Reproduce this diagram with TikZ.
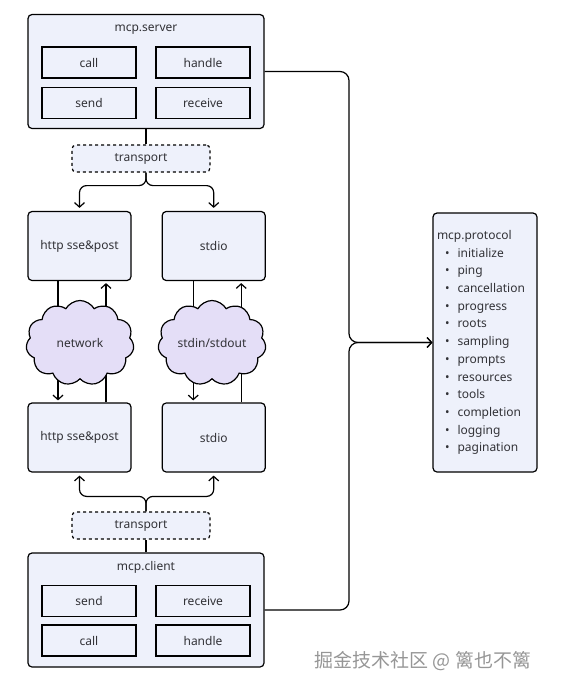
\documentclass[tikz,border=0pt]{standalone}
\usepackage{fontspec}
\setmainfont{Noto Sans}
\newfontfamily\cjkfont{Noto Sans CJK SC}
\usetikzlibrary{arrows, arrows.meta, shapes, positioning}
\definecolor{boxblue}{RGB}{238,241,251}
\definecolor{cloudlilac}{RGB}{228,222,247}
\definecolor{inkgray}{RGB}{50,50,55}
\definecolor{markgray}{RGB}{150,150,150}

\begin{document}
\begin{tikzpicture}[x=1pt, y=-1pt, line width=1.2pt,
                    >={Straight Barb[length=4.5pt, width=10pt]},
                    font=\fontsize{12}{14}\selectfont,
                    outer/.style= {draw,
                      rounded corners=4pt,
                      fill=boxblue,
                      inner sep=0pt,
                      minimum width=236pt,
                      minimum height=114pt},
                    inner/.style= {draw,
                      line width=1.5pt,
                      fill=boxblue,
                      text=inkgray,
                      inner sep=0pt,
                      minimum width=94pt,
                      minimum height=31pt},
                    link/.style= {draw,
                      rounded corners=4pt,
                      fill=boxblue,
                      text=inkgray,
                      inner sep=0pt,
                      minimum width=103pt,
                      minimum height=69pt},
                    dashbox/.style= {draw,
                      dashed,
                      rounded corners=4pt,
                      fill=boxblue,
                      text=inkgray,
                      inner sep=0pt,
                      minimum width=138pt,
                      minimum height=27pt},
                    puff/.style= {draw,
                      cloud,
                      cloud puffs=11,
                      cloud puff arc=120,
                      fill=cloudlilac,
                      text=inkgray,
                      inner sep=0pt,
                      minimum width=108pt,
                      minimum height=85pt},
                    listbox/.style= {draw,
                      rounded corners=4pt,
                      fill=boxblue,
                      text=inkgray,
                      align=left,
                      text width=96pt,
                      inner sep=4pt,
                      minimum height=259pt,
                      font=\fontsize{12}{17.7}\selectfont}]

  \useasboundingbox (0,0) rectangle (560,691);

  % server side
  \node[outer] (1) at (146,71.5) {};
  \node[text=inkgray] (1t) at (146,30) {mcp.server};
  \node[inner] (1a) at (89,62.5) {call};
  \node[inner] (1b) at (203,62.5) {handle};
  \node[inner] (1c) at (89,103) {send};
  \node[inner] (1d) at (203,103) {receive};
  \node[dashbox] (3) at (141,158.5) {transport};

  \node[link] (5) at (79.5,246) {http sse\&post};
  \node[link] (6) [right=30pt of 5] {stdio};
  \node[link] (9) at (79.5,437.5) {http sse\&post};
  \node[link] (10) [right=30pt of 9] {stdio};

  % these run behind the clouds placed next
  \draw[->, shorten >=2pt] ([xshift=-21.5pt]5.south) -- ([xshift=-21.5pt]9.north);
  \draw[->, shorten >=2pt] ([xshift=26.5pt]9.north) -- ([xshift=26.5pt]5.south);
  \draw[->, shorten >=2pt] ([xshift=-20.5pt]6.south) -- ([xshift=-20.5pt]10.north);
  \draw[->, shorten >=2pt] ([xshift=27.5pt]10.north) -- ([xshift=27.5pt]6.south);

  \node[puff] (7) at (80,343) {\makebox[0pt]{network}};
  \node[puff] (8) at (212,343) {\makebox[0pt]{stdin/stdout}};

  % client side
  \node[dashbox] (11) at (141,525.5) {transport};
  \node[outer] (12) at (146,610) {};
  \node[text=inkgray] (12t) at (146,567) {mcp.client};
  \node[inner] (12a) at (89,601) {send};
  \node[inner] (12b) at (203,601) {receive};
  \node[inner] (12c) at (89,640.5) {call};
  \node[inner] (12d) at (203,640.5) {handle};

  \node[listbox] (13) at (485,342.5) {mcp.protocol\\
    \hspace*{8pt}\textbullet\hspace{8pt}initialize\\
    \hspace*{8pt}\textbullet\hspace{8pt}ping\\
    \hspace*{8pt}\textbullet\hspace{8pt}cancellation\\
    \hspace*{8pt}\textbullet\hspace{8pt}progress\\
    \hspace*{8pt}\textbullet\hspace{8pt}roots\\
    \hspace*{8pt}\textbullet\hspace{8pt}sampling\\
    \hspace*{8pt}\textbullet\hspace{8pt}prompts\\
    \hspace*{8pt}\textbullet\hspace{8pt}resources\\
    \hspace*{8pt}\textbullet\hspace{8pt}tools\\
    \hspace*{8pt}\textbullet\hspace{8pt}completion\\
    \hspace*{8pt}\textbullet\hspace{8pt}logging\\
    \hspace*{8pt}\textbullet\hspace{8pt}pagination};

  \node[text=markgray, font=\cjkfont\fontsize{19}{19}\selectfont] (14) at (423,661) {掘金技术社区 @ 篱也不篱};

  \coordinate (bus) at (349,342.5);

  \draw (1.south) -- (3.north -| 1.south);
  \draw (12.north) -- (11.south -| 12.north);
  \draw[->, rounded corners=7pt, shorten >=3pt] (3.south -| 1.south) -- ++(0,13) -| (5.north);
  \draw[->, rounded corners=7pt, shorten >=3pt] (3.south -| 1.south) -- ++(0,13) -| (6.north);
  \draw[->, rounded corners=7pt, shorten >=3pt] (11.north -| 12.north) -- ++(0,-15) -| (9.south);
  \draw[->, rounded corners=7pt, shorten >=3pt] (11.north -| 12.north) -- ++(0,-15) -| (10.south);

  \draw[->, rounded corners=9pt] (1.east) -| (bus) -- (13.west);
  \draw[->, rounded corners=9pt] (12.east) -| (bus) -- (13.west);
\end{tikzpicture}
\end{document}
